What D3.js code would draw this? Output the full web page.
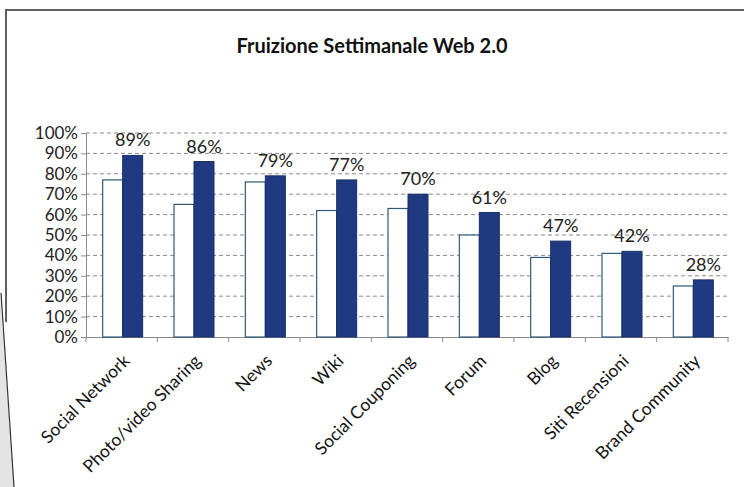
<!DOCTYPE html>
<html><head><meta charset="utf-8">
<script src="https://cdn.jsdelivr.net/npm/d3@7"></script>
<style>html,body{margin:0;padding:0;background:#fff;}svg{display:block;}</style>
</head><body>
<svg id="c" width="744" height="487"></svg>
<script>
const categories = ["Social Network","Photo/video Sharing","News","Wiki","Social Couponing","Forum","Blog","Siti Recensioni","Brand Community"];
const seriesA = [77, 65, 76, 62, 63, 50, 39, 41, 25];
const seriesB = [89, 86, 79, 77, 70, 61, 47, 42, 28];
const yTicks = [0,10,20,30,40,50,60,70,80,90,100];
const title = "Fruizione Settimanale Web 2.0";

const svg = d3.select("#c");
const F = "Lato, 'Open Sans', sans-serif";

// page frame with curl
svg.append("path").attr("d","M0,293 L14,487 L0,487 Z").attr("fill","#e4e4e4");
svg.append("line").attr("x1",6).attr("y1",9).attr("x2",6).attr("y2",322).attr("stroke","#606060").attr("stroke-width",2);
svg.append("line").attr("x1",5).attr("y1",10).attr("x2",744).attr("y2",10).attr("stroke","#606060").attr("stroke-width",2);
svg.append("line").attr("x1",1).attr("y1",293).attr("x2",14).attr("y2",487).attr("stroke","#333").attr("stroke-width",1.2);

const x0 = 86, x1 = 728, yTop = 133, yBot = 337;
const x = d3.scaleBand().domain(categories).range([x0,x1]).paddingInner(0).paddingOuter(0);
const xs = d3.scaleBand().domain(["A","B"]).range([0, 40]);
const y = d3.scaleLinear().domain([0,100]).range([yBot,yTop]);

// gridlines
svg.append("g").selectAll("line").data(yTicks.filter(d=>d>0)).join("line")
  .attr("x1",x0).attr("x2",x1).attr("y1",d=>y(d)).attr("y2",d=>y(d))
  .attr("stroke","#8a8a8a").attr("stroke-width",1).attr("stroke-dasharray","4,3");

// y axis
const ya = svg.append("g").attr("transform",`translate(${x0},0)`)
  .call(d3.axisLeft(y).tickValues(yTicks).tickFormat(d=>d+"%").tickSize(5).tickPadding(3));
ya.select(".domain").attr("stroke","#8a8a8a");
ya.selectAll(".tick line").attr("stroke","#8a8a8a");
ya.selectAll("text").attr("font-family",F).attr("font-size",17).attr("fill","#222");

// x axis
const xa = svg.append("g").attr("transform",`translate(0,${yBot})`)
  .call(d3.axisBottom(x).tickSize(0).tickFormat(""));
xa.select(".domain").attr("stroke","#8a8a8a");
xa.selectAll(".tick").remove();
const bounds = categories.map(c=>x(c)).concat([x1]);
xa.selectAll("line.b").data(bounds).join("line").attr("class","b")
  .attr("x1",d=>d).attr("x2",d=>d).attr("y1",0).attr("y2",5).attr("stroke","#8a8a8a");

// bars
const off = (x.bandwidth()-40)/2 + 1;
const g = svg.append("g");
g.selectAll("rect.a").data(categories).join("rect").attr("class","a")
  .attr("x",(c)=>x(c)+off+xs("A")).attr("width",xs.bandwidth())
  .attr("y",(c,i)=>y(seriesA[i])).attr("height",(c,i)=>yBot-y(seriesA[i]))
  .attr("fill","#ffffff").attr("stroke","#2e5a78").attr("stroke-width",1.2);
g.selectAll("rect.b").data(categories).join("rect").attr("class","b")
  .attr("x",(c)=>x(c)+off+xs("B")).attr("width",xs.bandwidth())
  .attr("y",(c,i)=>y(seriesB[i])).attr("height",(c,i)=>yBot-y(seriesB[i]))
  .attr("fill","#1f3a80").attr("stroke","#1a3068").attr("stroke-width",1);

// value labels
g.selectAll("text.v").data(categories).join("text").attr("class","v")
  .attr("x",(c)=>x(c)+off+xs("B")+xs.bandwidth()/2)
  .attr("y",(c,i)=>y(seriesB[i])-9)
  .attr("text-anchor","middle").attr("font-family",F).attr("font-size",18).attr("fill","#222")
  .text((c,i)=>seriesB[i]+"%");

// category labels
svg.append("g").selectAll("text").data(categories).join("text")
  .attr("transform",c=>`translate(${x(c)+x.bandwidth()/2+9},${yBot+25}) rotate(-45)`)
  .attr("text-anchor","end").attr("font-family",F).attr("font-size",17.5).attr("fill","#111")
  .text(c=>c);

// title
svg.append("text").attr("x",372).attr("y",53).attr("text-anchor","middle")
  .attr("font-family",F).attr("font-weight","bold").attr("font-size",20).attr("fill","#111")
  .text(title);
</script>
</body></html>
